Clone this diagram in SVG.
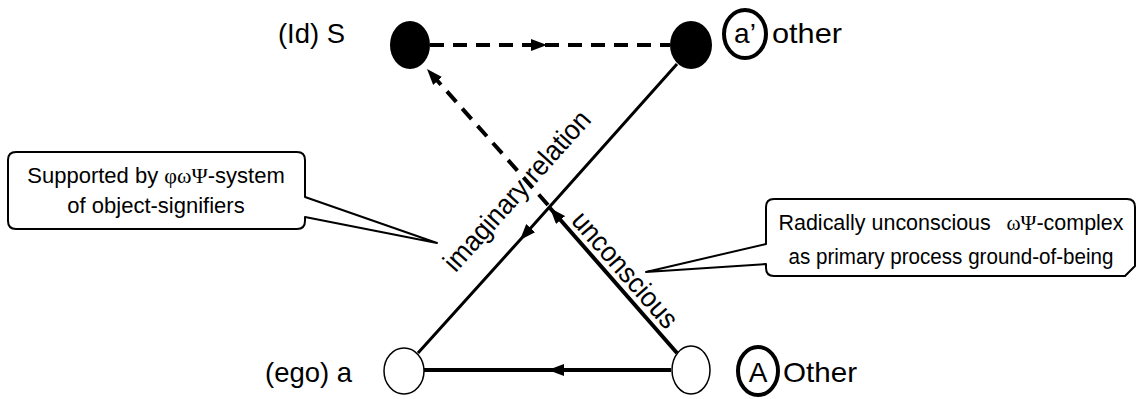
<svg xmlns="http://www.w3.org/2000/svg" width="1139" height="399" viewBox="0 0 1139 399">
<style>
.lbl{font-family:"Liberation Sans",Arial,sans-serif;font-size:28px;fill:#000}
.box{font-family:"Liberation Sans",Arial,sans-serif;font-size:22px;fill:#000}
.gr{font-family:"Liberation Serif","Times New Roman",serif}
.edge{fill:none;stroke:#000}
.dash{stroke-width:4;stroke-dasharray:14 9}
.callout{fill:#fff;stroke:#000;stroke-width:2;stroke-linejoin:round}
.ring{fill:none;stroke:#000;stroke-width:4}
</style>
<defs>
<marker id="ah" viewBox="0 0 16 12" refX="16" refY="6" markerWidth="16" markerHeight="12" markerUnits="userSpaceOnUse" orient="auto">
<path d="M0,0 L16,6 L0,12 z" fill="#000"/>
</marker>
</defs>
<g id="callout-left">
<path class="callout" d="M16,152 H297 Q305,152 305,160 V197 L437,243 L305,217 V221 Q305,229 297,229 H16 Q8,229 8,221 V160 Q8,152 16,152 Z"/>
<text class="box" x="156" y="183" text-anchor="middle">Supported by <tspan class="gr">φωΨ</tspan>-system</text>
<text class="box" x="156" y="213" text-anchor="middle">of object-signifiers</text>
</g>
<g id="callout-right">
<path class="callout" d="M774,199 H1127 Q1135,199 1135,207 V266 L1125,276 H774 Q766,276 766,268 V264 L646,272 L766,244 V207 Q766,199 774,199 Z"/>
<text class="box" x="951" y="230" text-anchor="middle" textLength="345" lengthAdjust="spacingAndGlyphs">Radically unconscious <tspan class="gr" dx="10">ωΨ</tspan>-complex</text>
<text class="box" x="951" y="264" text-anchor="middle" textLength="325" lengthAdjust="spacingAndGlyphs">as primary process ground-of-being</text>
</g>
<g id="connectors">
<path class="edge dash" d="M430,45 L547,45 L670,45" marker-mid="url(#ah)"/>
<path class="edge dash" d="M548,205 L427,69" marker-end="url(#ah)"/>
<path class="edge" stroke-width="4" d="M677,353 L550,208" marker-end="url(#ah)"/>
<path class="edge" stroke-width="3" d="M677,64 L520,240 L418,353" marker-mid="url(#ah)"/>
<path class="edge" stroke-width="4" d="M671,370 L548,370 L424,370" marker-mid="url(#ah)"/>
<text class="lbl" font-size="26" text-anchor="middle" textLength="205" lengthAdjust="spacingAndGlyphs" transform="translate(524,197) rotate(-48.15)">imaginary relation</text>
<text class="lbl" font-size="26" text-anchor="middle" textLength="145" lengthAdjust="spacingAndGlyphs" transform="translate(618,276) rotate(48.7)">unconscious</text>
</g>
<g id="node-S">
<ellipse cx="410" cy="45" rx="20" ry="24" fill="#000"/>
<text class="lbl" x="278" y="43" textLength="67" lengthAdjust="spacingAndGlyphs">(Id) S</text>
</g>
<g id="node-a-prime">
<ellipse cx="691" cy="45" rx="21" ry="24" fill="#000"/>
<ellipse class="ring" cx="745" cy="34" rx="21" ry="24"/>
<text class="lbl" x="745" y="43" text-anchor="middle">a’</text>
<text class="lbl" x="772" y="43" textLength="70" lengthAdjust="spacingAndGlyphs">other</text>
</g>
<g id="node-ego">
<ellipse cx="404" cy="371" rx="20" ry="23" fill="#fff" stroke="#000" stroke-width="1.5"/>
<text class="lbl" x="265" y="382" textLength="87" lengthAdjust="spacingAndGlyphs">(ego) a</text>
</g>
<g id="node-A">
<ellipse cx="691" cy="370" rx="19" ry="24" fill="#fff" stroke="#000" stroke-width="1.5"/>
<ellipse class="ring" cx="758" cy="371" rx="20" ry="24"/>
<text class="lbl" x="758" y="382" text-anchor="middle">A</text>
<text class="lbl" x="783" y="382" textLength="74" lengthAdjust="spacingAndGlyphs">Other</text>
</g>
</svg>
